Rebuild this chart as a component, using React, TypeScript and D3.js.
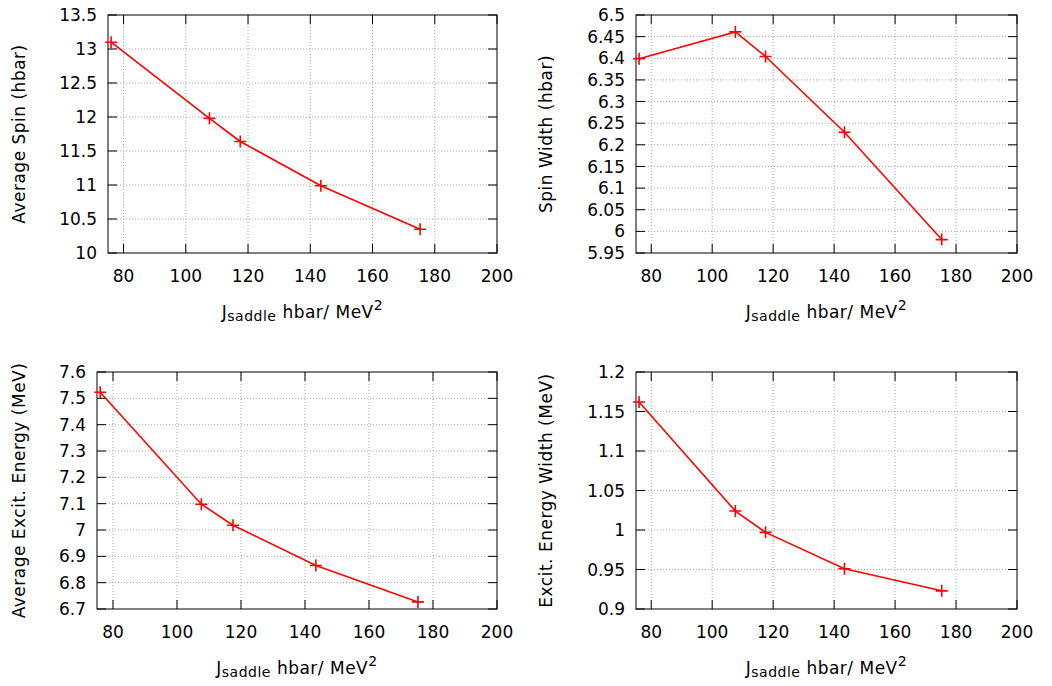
import React from "react";
import * as d3 from "d3";

// J_saddle values (hbar / MeV^2)
const jSaddle = [76, 107.6, 117.5, 143.4, 175.3];

const avgSpin = [13.1, 11.98, 11.64, 10.99, 10.35];
const spinWidth = [6.399, 6.461, 6.404, 6.229, 5.981];
const avgExcit = [7.523, 7.098, 7.018, 6.865, 6.727];
const excitWidth = [1.162, 1.024, 0.997, 0.951, 0.923];

const xTicks = [80, 100, 120, 140, 160, 180, 200];
const spinTicks = [10, 10.5, 11, 11.5, 12, 12.5, 13, 13.5];
const spinWidthTicks = [5.95, 6, 6.05, 6.1, 6.15, 6.2, 6.25, 6.3, 6.35, 6.4, 6.45, 6.5];
const excitTicks = [6.7, 6.8, 6.9, 7, 7.1, 7.2, 7.3, 7.4, 7.5, 7.6];
const excitWidthTicks = [0.9, 0.95, 1, 1.05, 1.1, 1.15, 1.2];

const FONT = "DejaVu Sans";
const RED = "#ff0000";
const FS = 17;

type PanelProps = {
  box: { left: number; right: number; top: number; bottom: number };
  values: number[];
  yTicks: number[];
  yLabel: string;
  yLabelX: number;
};

function Panel({ box, values, yTicks, yLabel, yLabelX }: PanelProps) {
  const x = d3.scaleLinear().domain([75, 200]).range([box.left, box.right]);
  const y = d3
    .scaleLinear()
    .domain([yTicks[0], yTicks[yTicks.length - 1]])
    .range([box.bottom, box.top]);
  const pts = jSaddle.map((j, i) => [x(j), y(values[i])] as [number, number]);
  const line = d3.line().curve(d3.curveLinear)(pts) || "";
  const tick = 9;
  const m = 6;
  const fmt = (v: number) => String(+v.toFixed(2));
  const cy = (box.top + box.bottom) / 2;
  const cx = (box.left + box.right) / 2;

  return (
    <g>
      {/* grid */}
      {xTicks.slice(0, -1).map((t) => (
        <line key={"gx" + t} x1={x(t)} x2={x(t)} y1={box.top} y2={box.bottom}
          stroke="#a8a8a8" strokeDasharray="1,2" />
      ))}
      {yTicks.slice(1, -1).map((t) => (
        <line key={"gy" + t} x1={box.left} x2={box.right} y1={y(t)} y2={y(t)}
          stroke="#a8a8a8" strokeDasharray="1,2" />
      ))}
      {/* ticks, mirrored */}
      {xTicks.map((t) => (
        <g key={"tx" + t}>
          <line x1={x(t)} x2={x(t)} y1={box.bottom} y2={box.bottom - tick} stroke="#000" />
          <line x1={x(t)} x2={x(t)} y1={box.top} y2={box.top + tick} stroke="#000" />
          <text x={x(t)} y={box.bottom + 29} textAnchor="middle" fontSize={FS} fontFamily={FONT}>
            {t}
          </text>
        </g>
      ))}
      {yTicks.map((t) => (
        <g key={"ty" + t}>
          <line x1={box.left} x2={box.left + tick} y1={y(t)} y2={y(t)} stroke="#000" />
          <line x1={box.right} x2={box.right - tick} y1={y(t)} y2={y(t)} stroke="#000" />
          <text x={box.left - 11} y={y(t)} dy="0.36em" textAnchor="end" fontSize={FS} fontFamily={FONT}>
            {fmt(t)}
          </text>
        </g>
      ))}
      <rect x={box.left} y={box.top} width={box.right - box.left} height={box.bottom - box.top}
        fill="none" stroke="#000" strokeWidth={1} />
      {/* data */}
      <path d={line} fill="none" stroke={RED} strokeWidth={1.6} />
      {pts.map(([px, py], i) => (
        <path key={"p" + i} d={`M${px - m},${py}H${px + m}M${px},${py - m}V${py + m}`}
          stroke={RED} strokeWidth={1.6} />
      ))}
      {/* labels */}
      <text transform={`translate(${yLabelX},${cy}) rotate(-90)`} textAnchor="middle"
        fontSize={FS} fontFamily={FONT} letterSpacing={0.5}>
        {yLabel}
      </text>
      <text x={cx} y={box.bottom + 65} textAnchor="middle" fontSize={FS} fontFamily={FONT}
        letterSpacing={0.5}>
        J
        <tspan fontSize={14} dy={3}>saddle</tspan>
        <tspan dy={-3}> hbar/ MeV</tspan>
        <tspan fontSize={14} dy={-8}>2</tspan>
      </text>
    </g>
  );
}

export default function App() {
  return (
    <div style={{ position: "absolute", left: 0, top: 0 }}>
      <svg width={1052} height={686} style={{ display: "block", background: "#fff" }}>
        <Panel box={{ left: 108, right: 497, top: 15, bottom: 253 }} values={avgSpin}
          yTicks={spinTicks} yLabel="Average Spin (hbar)" yLabelX={25} />
        <Panel box={{ left: 636, right: 1017, top: 15, bottom: 253 }} values={spinWidth}
          yTicks={spinWidthTicks} yLabel="Spin Width (hbar)" yLabelX={552} />
        <Panel box={{ left: 97, right: 497, top: 372, bottom: 609 }} values={avgExcit}
          yTicks={excitTicks} yLabel="Average Excit. Energy (MeV)" yLabelX={25} />
        <Panel box={{ left: 636, right: 1017, top: 372, bottom: 609 }} values={excitWidth}
          yTicks={excitWidthTicks} yLabel="Excit. Energy Width (MeV)" yLabelX={552} />
      </svg>
    </div>
  );
}
